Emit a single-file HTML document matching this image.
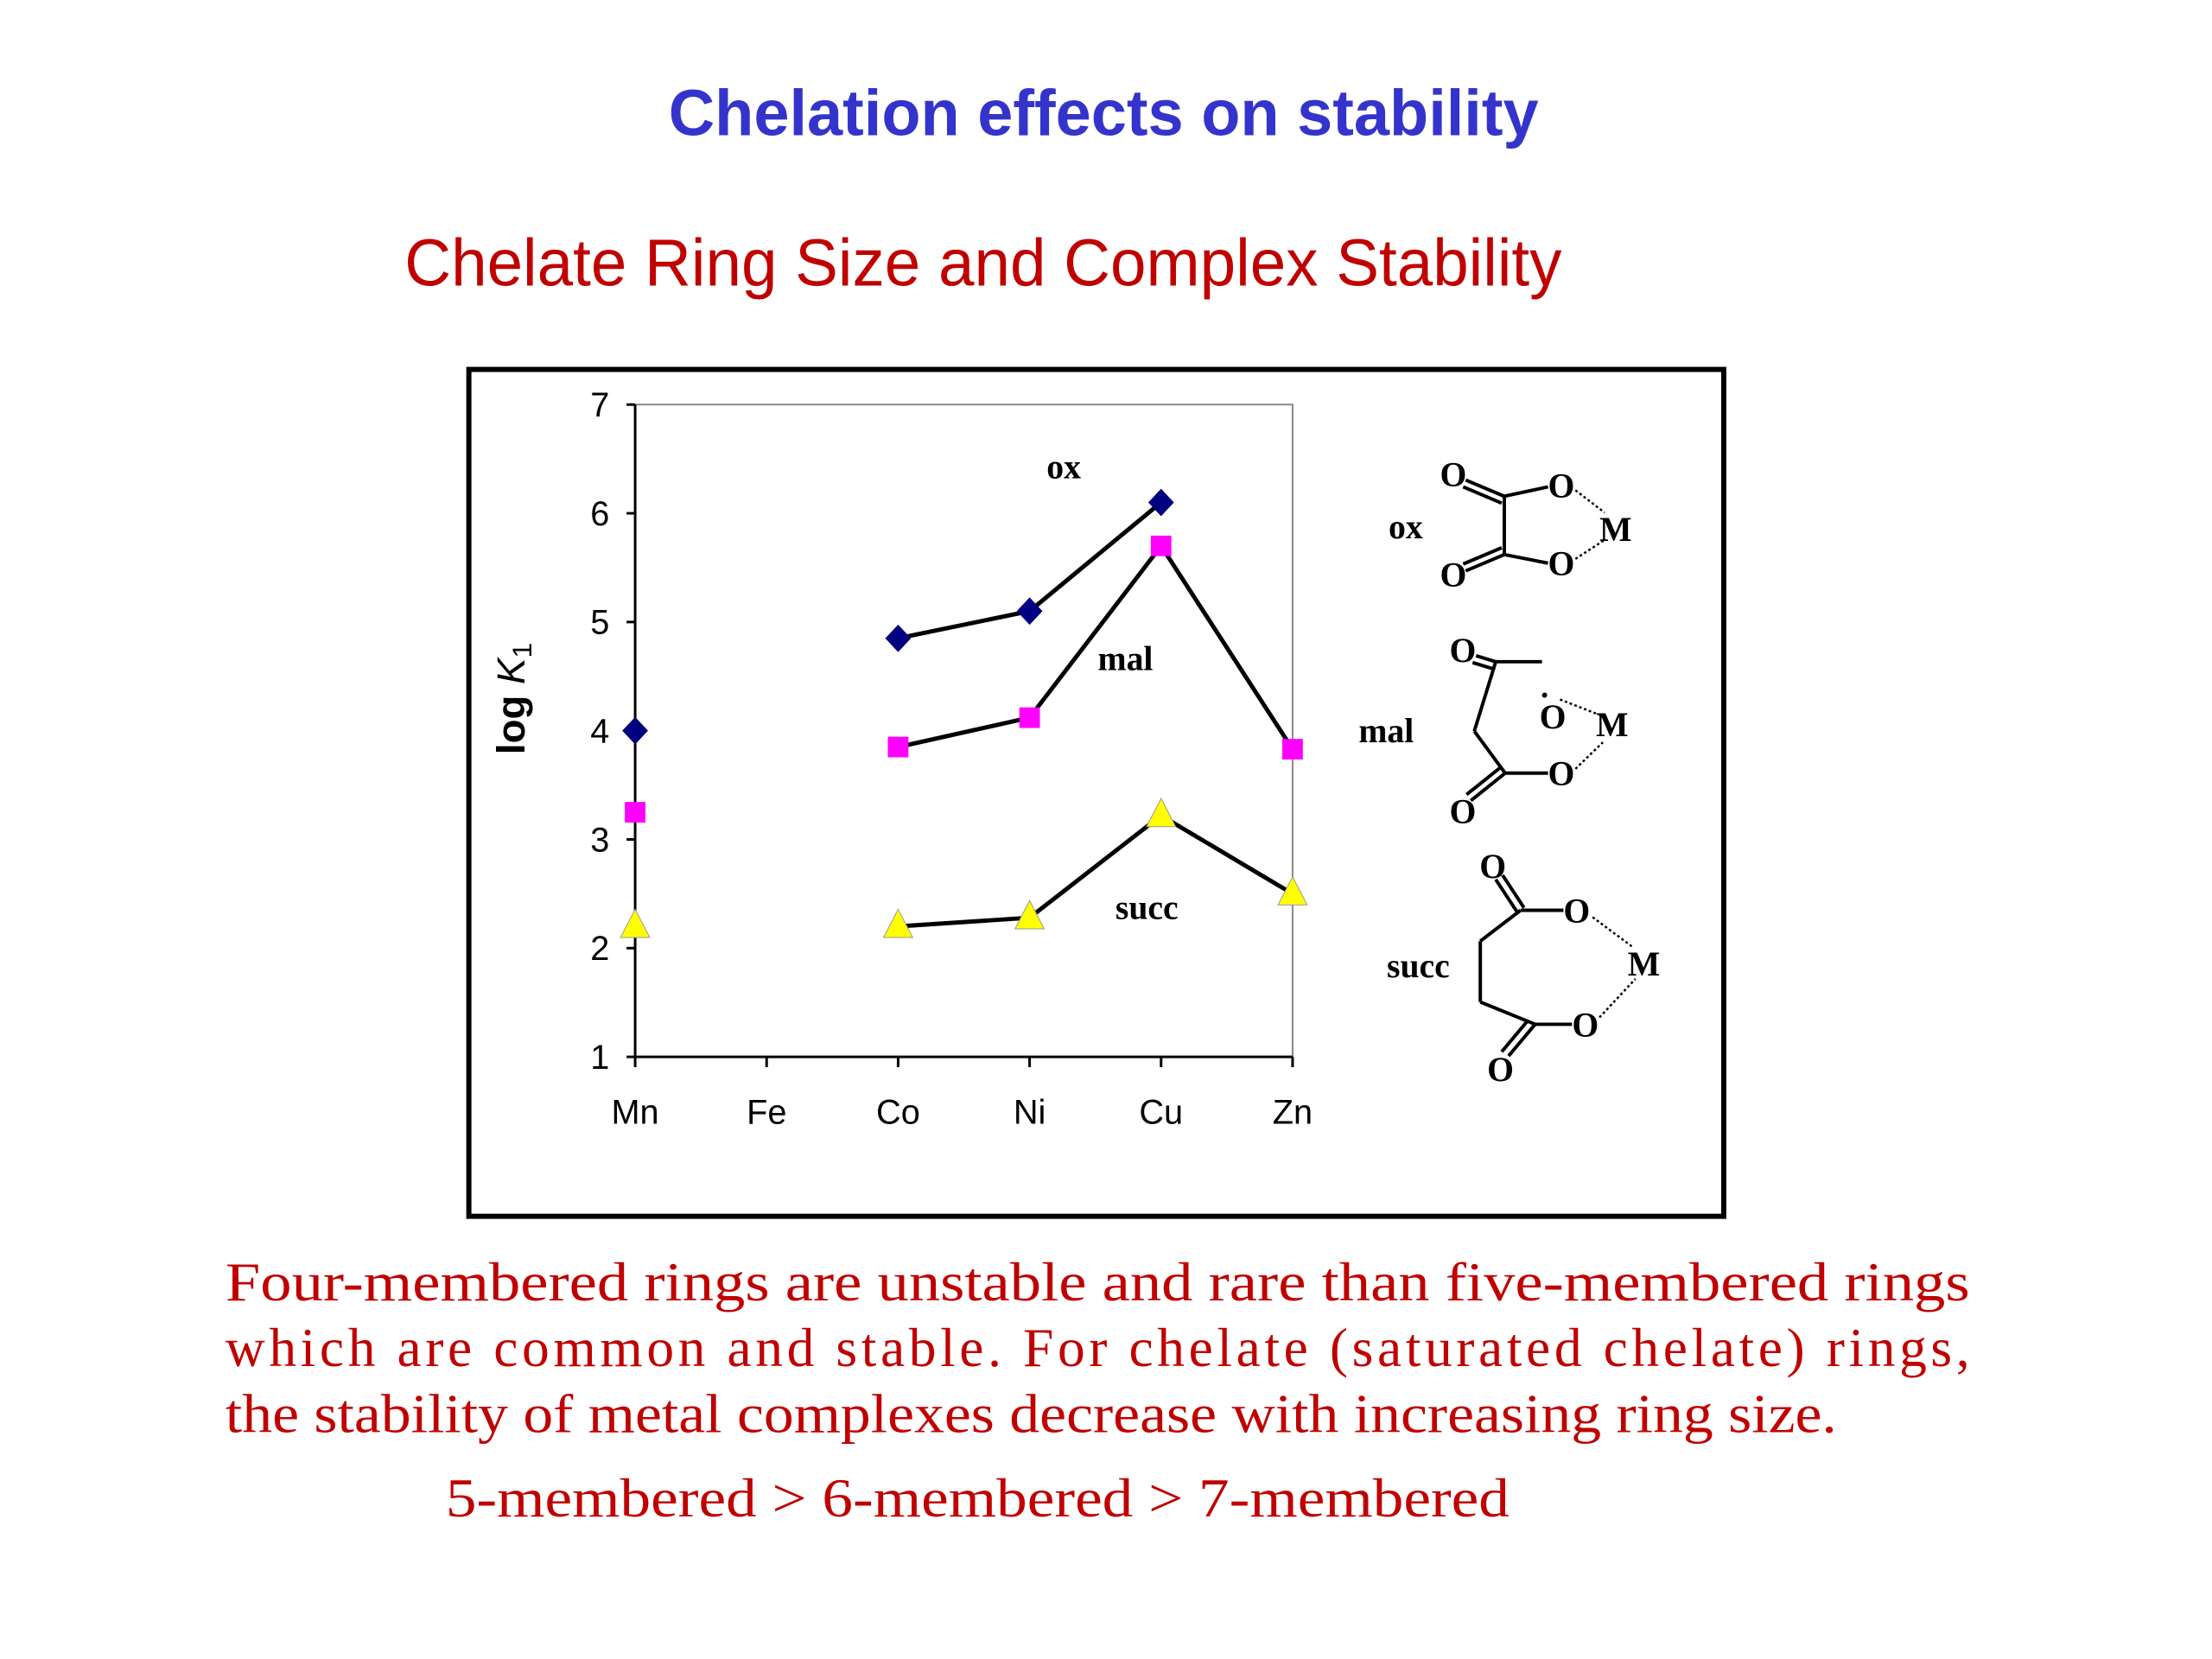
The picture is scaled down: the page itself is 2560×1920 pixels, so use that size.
<!DOCTYPE html>
<html><head><meta charset="utf-8"><style>
html,body{margin:0;padding:0;background:#fff;width:2560px;height:1920px;overflow:hidden}
svg{display:block}
</style></head><body>
<svg id="s" width="2560" height="1920" viewBox="0 0 2560 1920" xmlns="http://www.w3.org/2000/svg">
<g transform="scale(0.992)">
<text x="780" y="158" font-family="Liberation Sans, sans-serif" font-weight="bold" font-size="76" fill="#3434cc" textLength="1015" lengthAdjust="spacingAndGlyphs">Chelation effects on stability</text>
<text x="472" y="333" font-family="Liberation Sans, sans-serif" font-size="78" fill="#c00000" textLength="1350" lengthAdjust="spacingAndGlyphs">Chelate Ring Size and Complex Stability</text>
<rect x="547" y="431" width="1464" height="988" fill="none" stroke="#000" stroke-width="6"/>
<g id="plot"></g>
<g font-family="Liberation Serif, serif" font-weight="bold" font-size="40" fill="#000" stroke="#000" stroke-width="4">
 <g>
  <text stroke="none" x="1620" y="628">ox</text>
  <text stroke="none" x="1680" y="567">O</text><text stroke="none" x="1680" y="684">O</text>
  <text stroke="none" x="1806" y="580">O</text><text stroke="none" x="1806" y="671">O</text>
  <text stroke="none" x="1866" y="631">M</text>
  <line x1="1755" y1="579" x2="1755" y2="647"/>
  <line x1="1710" y1="560" x2="1755" y2="579"/><line x1="1707" y1="568" x2="1752" y2="587"/>
  <line x1="1710" y1="666" x2="1755" y2="647"/><line x1="1707" y1="658" x2="1752" y2="639"/>
  <line x1="1755" y1="579" x2="1806" y2="568"/><line x1="1755" y1="647" x2="1806" y2="657"/>
  <line x1="1838" y1="572" x2="1872" y2="598" stroke-width="2.5" stroke-dasharray="3 3"/>
  <line x1="1838" y1="652" x2="1872" y2="630" stroke-width="2.5" stroke-dasharray="3 3"/>
 </g>
 <g>
  <text stroke="none" x="1585" y="866">mal</text>
  <text stroke="none" x="1691" y="772">O</text><text stroke="none" x="1796" y="850">O</text>
  <text stroke="none" x="1806" y="916">O</text><text stroke="none" x="1691" y="960">O</text>
  <text stroke="none" x="1862" y="859">M</text>
  <circle cx="1802" cy="811" r="3" stroke="none"/>
  <line x1="1745" y1="772" x2="1799" y2="772"/>
  <line x1="1722" y1="765" x2="1745" y2="772"/><line x1="1718" y1="773" x2="1741" y2="780"/>
  <line x1="1745" y1="772" x2="1720" y2="853"/><line x1="1720" y1="853" x2="1756" y2="902"/>
  <line x1="1756" y1="902" x2="1806" y2="902"/>
  <line x1="1756" y1="902" x2="1716" y2="934"/><line x1="1751" y1="895" x2="1711" y2="927"/>
  <line x1="1820" y1="816" x2="1866" y2="834" stroke-width="2.5" stroke-dasharray="3 3"/>
  <line x1="1838" y1="897" x2="1870" y2="866" stroke-width="2.5" stroke-dasharray="3 3"/>
 </g>
 <g>
  <text stroke="none" x="1618" y="1140">succ</text>
  <text stroke="none" x="1726" y="1024">O</text><text stroke="none" x="1824" y="1076">O</text>
  <text stroke="none" x="1834" y="1209">O</text><text stroke="none" x="1735" y="1261">O</text>
  <text stroke="none" x="1899" y="1138">M</text>
  <line x1="1745" y1="1026" x2="1770" y2="1064"/><line x1="1753" y1="1021" x2="1778" y2="1059"/>
  <line x1="1774" y1="1062" x2="1824" y2="1062"/>
  <line x1="1774" y1="1062" x2="1727" y2="1098"/><line x1="1727" y1="1098" x2="1727" y2="1169"/>
  <line x1="1727" y1="1169" x2="1791" y2="1195"/><line x1="1791" y1="1195" x2="1834" y2="1195"/>
  <line x1="1791" y1="1195" x2="1760" y2="1232"/><line x1="1783" y1="1190" x2="1752" y2="1227"/>
  <line x1="1858" y1="1070" x2="1905" y2="1105" stroke-width="2.5" stroke-dasharray="3 3"/>
  <line x1="1866" y1="1187" x2="1908" y2="1142" stroke-width="2.5" stroke-dasharray="3 3"/>
 </g>
</g>
<g font-family="Liberation Serif, serif" font-size="64" fill="#c00000">
 <text x="263" y="1517" textLength="2035" lengthAdjust="spacingAndGlyphs">Four-membered rings are unstable and rare than five-membered rings</text>
 <text x="263" y="1594" textLength="2035" lengthAdjust="spacing">which are common and stable. For chelate (saturated chelate) rings,</text>
 <text x="263" y="1671" textLength="1880" lengthAdjust="spacingAndGlyphs">the stability of metal complexes decrease with increasing ring size.</text>
 <text x="520" y="1769" textLength="1241" lengthAdjust="spacingAndGlyphs">5-membered &gt; 6-membered &gt; 7-membered</text>
</g>
</g>
</svg>
<script>
const categories = ["Mn","Fe","Co","Ni","Cu","Zn"];
const yTicks = [1,2,3,4,5,6,7];
const oxValues = [4.0, null, 4.85, 5.1, 6.1, null];
const malValues = [3.25, null, 3.85, 4.12, 5.7, 3.83];
const succValues = [2.2, null, 2.2, 2.28, 3.22, 2.5];

const NS = "http://www.w3.org/2000/svg";
const g = document.getElementById('plot');
const X0 = 741, X1 = 1508, Y0 = 1233, Y1 = 472;
const xs = i => X0 + i * (X1 - X0) / (categories.length - 1);
const ys = v => Y0 - (v - 1) * (Y0 - Y1) / 6;
function mk(t, a) { const e = document.createElementNS(NS, t); for (const k in a) e.setAttribute(k, a[k]); g.appendChild(e); return e; }

let e = mk('rect', {x: X0, y: Y1, width: X1 - X0, height: Y0 - Y1, fill: 'none', stroke: '#888', 'stroke-width': 2});


e = mk('line', {x1: X0, y1: Y1, x2: X0, y2: Y0, stroke: '#000', 'stroke-width': 3});


e = mk('line', {x1: X0, y1: Y0, x2: X1, y2: Y0, stroke: '#000', 'stroke-width': 3});



yTicks.forEach(t => {
  const y = ys(t);
  let l = mk('line', {x1: X0 - 10, y1: y, x2: X0, y2: y, stroke: '#000', 'stroke-width': 3});
  
  
  const tx = mk('text', {x: X0 - 30, y: y + 14, 'text-anchor': 'end', 'font-family': 'Liberation Sans, sans-serif', 'font-size': 40});
  tx.textContent = t;
  
  
});
categories.forEach((c, i) => {
  const x = xs(i);
  let l = mk('line', {x1: x, y1: Y0, x2: x, y2: Y0 + 12, stroke: '#000', 'stroke-width': 3});
  
  
  const tx = mk('text', {x: x, y: Y0 + 78, 'text-anchor': 'middle', 'font-family': 'Liberation Sans, sans-serif', 'font-size': 40});
  tx.textContent = c;
  
  
});
const yt = mk('text', {x: 0, y: 0, transform: 'translate(612,815) rotate(-90)', 'text-anchor': 'middle', 'font-family': 'Liberation Sans, sans-serif', 'font-weight': 'bold', 'font-size': 46});
yt.innerHTML = 'log <tspan font-style="italic" font-weight="normal">K</tspan><tspan font-size="32" font-weight="normal" dy="8">1</tspan>';



function series(vals, name, shape, fill) {
  let pts = [];
  vals.forEach((v, i) => { if (v !== null && i >= 2) pts.push(xs(i) + ',' + ys(v)); });
  const pl = mk('polyline', {points: pts.join(' '), fill: 'none', stroke: '#000', 'stroke-width': 5});
  
  
  vals.forEach((v, i) => {
    if (v === null) return;
    const x = xs(i), y = ys(v);
    let m;
    if (shape === 'diamond') m = mk('polygon', {points: `${x},${y-16} ${x+15},${y} ${x},${y+16} ${x-15},${y}`, fill: fill});
    else if (shape === 'square') m = mk('rect', {x: x - 12, y: y - 12, width: 24, height: 24, fill: fill});
    else m = mk('polygon', {points: `${x},${y-20} ${x+17},${y+13} ${x-17},${y+13}`, fill: fill, stroke: '#999', 'stroke-width': 1});
    
    
  });
}
series(oxValues, 'ox', 'diamond', '#000080');
series(malValues, 'mal', 'square', '#ff00ff');
series(succValues, 'succ', 'triangle', '#ffff00');

[['ox', 1241, 558], ['mal', 1313, 782], ['succ', 1338, 1072]].forEach(a => {
  const tx = mk('text', {x: a[1], y: a[2], 'text-anchor': 'middle', 'font-family': 'Liberation Serif, serif', 'font-weight': 'bold', 'font-size': 40});
  tx.textContent = a[0];
  
  
});
</script>
</body></html>
